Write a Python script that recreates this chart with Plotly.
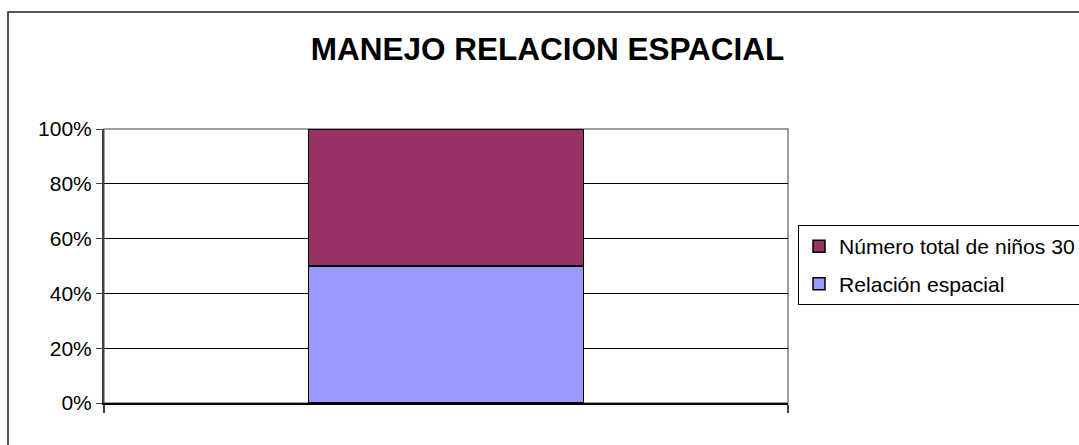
import plotly.graph_objects as go

# Data
categories = [""]
relacion_espacial = [15]
numero_total = [15]
series_names = ["Relación espacial", "Número total de niños 30"]
y_tick_vals = [0, 20, 40, 60, 80, 100]
y_tick_text = ["0%", "20%", "40%", "60%", "80%", "100%"]
title_text = "MANEJO RELACION ESPACIAL"

FONT = "Arial, Liberation Sans, sans-serif"
FIG_W, FIG_H = 1079, 445

L, R, T, B = 104, 788, 129, 403
PW, PH = R - L, B - T

fig = go.Figure()
fig.add_trace(go.Bar(
    x=categories, y=relacion_espacial, name=series_names[0],
    legendgroup="a", legendrank=2,
    marker=dict(color="#9999FF", line=dict(color="#000000", width=1.5)),
    width=0.402,
))
fig.add_trace(go.Bar(
    x=categories, y=numero_total, name=series_names[1],
    legendgroup="b", legendrank=1,
    marker=dict(color="#993366", line=dict(color="#000000", width=1.5)),
    width=0.402,
))

fig.update_layout(
    width=FIG_W, height=FIG_H,
    barmode="stack", barnorm="percent",
    paper_bgcolor="white", plot_bgcolor="white",
    margin=dict(l=L, r=FIG_W - R, t=T, b=FIG_H - B, autoexpand=False),
    font=dict(family=FONT, size=21, color="#000000"),
    title=dict(text="<b>" + title_text + "</b>", x=547.5 / FIG_W, xanchor="center",
               y=1 - 49 / FIG_H, yanchor="middle",
               font=dict(family=FONT, size=31.5, color="#000000")),
    showlegend=True,
    legend=dict(
        x=(798 - L) / PW, xanchor="left",
        y=(B - 225) / PH, yanchor="top",
        traceorder="grouped", tracegroupgap=7,
        bordercolor="#000000", borderwidth=1, bgcolor="white",
        font=dict(family=FONT, size=21.1, color="#000000"),
    ),
    xaxis=dict(
        type="category", range=[-0.5, 0.5],
        showticklabels=False, ticks="outside", tickson="boundaries",
        ticklen=8, tickcolor="#404040", tickwidth=1.5,
        showline=True, linecolor="#000000", linewidth=1.5,
        showgrid=False, zeroline=False,
    ),
    yaxis=dict(
        range=[0, 100], tickvals=y_tick_vals, ticktext=y_tick_text,
        ticks="outside", ticklen=6, tickcolor="#404040", tickwidth=1,
        showline=True, linecolor="#404040", linewidth=2,
        showgrid=True, gridcolor="#000000", gridwidth=1,
        zeroline=False,
        tickfont=dict(family=FONT, size=21, color="#000000"),
    ),
    shapes=[
        dict(type="rect", xref="paper", yref="paper", x0=0, y0=0, x1=1, y1=1,
             line=dict(color="#808080", width=1.5), layer="below"),
        dict(type="rect", xref="paper", yref="paper",
             x0=(8 - L) / PW, y0=-0.6, x1=1.6, y1=(B - 12) / PH,
             line=dict(color="#222222", width=1.5), layer="below"),
    ],
)

fig.write_html(
    "out.html",
    config={"displayModeBar": False},
    post_script="document.body.style.margin='0';document.body.style.overflow='hidden';",
)
